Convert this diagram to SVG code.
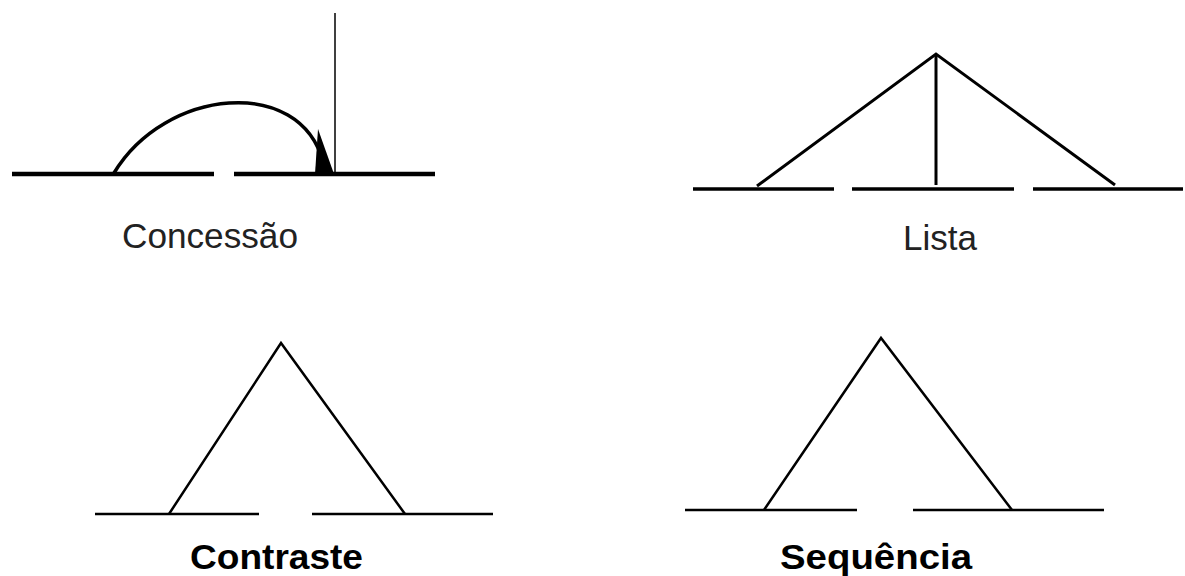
<svg xmlns="http://www.w3.org/2000/svg" width="1185" height="576" viewBox="0 0 1185 576">
<style>
.ln{stroke:#000;fill:none;stroke-linecap:butt;stroke-linejoin:miter}
.thin{font-family:"Liberation Sans",Arial,sans-serif;font-size:35px;fill:#222}
.bold{font-family:"Liberation Sans",Arial,sans-serif;font-size:35px;font-weight:bold;fill:#000}
</style>
<rect width="1185" height="576" fill="#fff"/>
<g id="concessao">
  <line class="ln" x1="12" y1="174" x2="214" y2="174" stroke-width="4.5"/>
  <line class="ln" x1="234" y1="174" x2="435" y2="174" stroke-width="4.5"/>
  <line class="ln" x1="335" y1="13" x2="335" y2="174" stroke-width="1.5"/>
  <path class="ln" d="M114,173 C165,88 300,75 323,162" stroke-width="3.5"/>
  <polygon points="318,129 315,174 334,174" fill="#000"/>
  <text class="thin" x="122" y="248" textLength="176" lengthAdjust="spacingAndGlyphs">Concessão</text>
</g>
<g id="lista">
  <line class="ln" x1="693" y1="189" x2="834" y2="189" stroke-width="3.5"/>
  <line class="ln" x1="852" y1="189" x2="1014" y2="189" stroke-width="3.5"/>
  <line class="ln" x1="1033" y1="189" x2="1183" y2="189" stroke-width="3.5"/>
  <polyline class="ln" points="757,186 936,54 1115,185" stroke-width="3"/>
  <line class="ln" x1="936" y1="54" x2="936" y2="185" stroke-width="3"/>
  <text class="thin" x="903" y="250" textLength="74" lengthAdjust="spacingAndGlyphs">Lista</text>
</g>
<g id="contraste">
  <line class="ln" x1="95" y1="514" x2="259" y2="514" stroke-width="2.5"/>
  <line class="ln" x1="312" y1="514" x2="493" y2="514" stroke-width="2.5"/>
  <polyline class="ln" points="169,514 281,343 405,514" stroke-width="2.5"/>
  <text class="bold" x="190" y="569" textLength="173" lengthAdjust="spacingAndGlyphs">Contraste</text>
</g>
<g id="sequencia">
  <line class="ln" x1="685" y1="510" x2="857" y2="510" stroke-width="2.5"/>
  <line class="ln" x1="913" y1="510" x2="1104" y2="510" stroke-width="2.5"/>
  <polyline class="ln" points="764,510 881,338 1012,510" stroke-width="2.5"/>
  <text class="bold" x="780" y="569" textLength="192" lengthAdjust="spacingAndGlyphs">Sequência</text>
</g>
<g id="connectors"></g>
</svg>
